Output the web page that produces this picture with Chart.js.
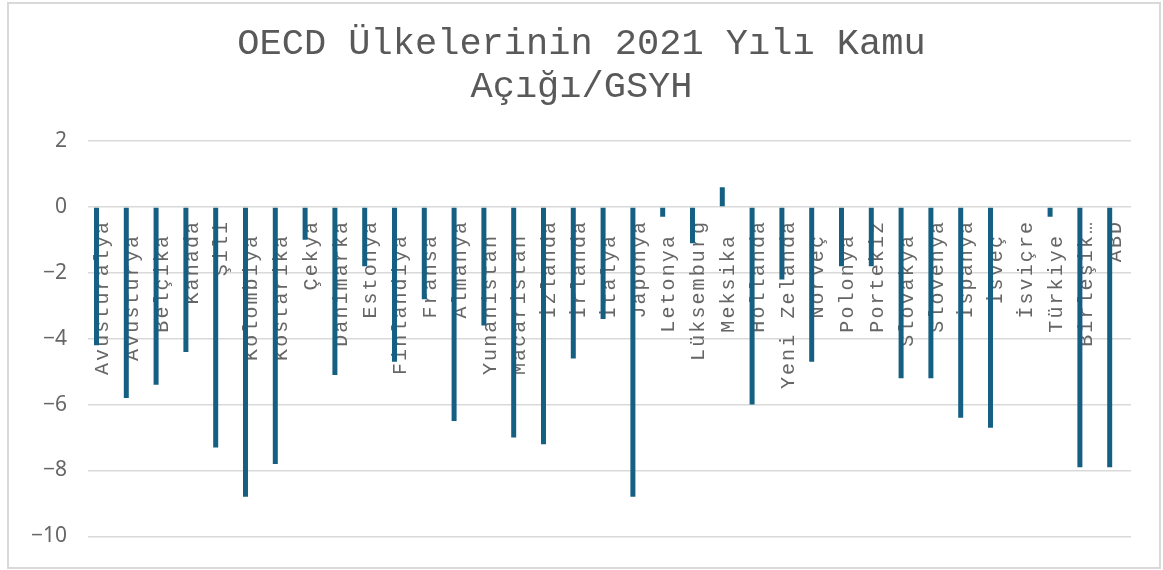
<!DOCTYPE html>
<html lang="tr">
<head>
<meta charset="utf-8">
<title>OECD Kamu Açığı/GSYH 2021</title>
<script src="https://cdn.jsdelivr.net/npm/chart.js@4/dist/chart.umd.min.js"></script>
<style>
  html, body { margin: 0; padding: 0; background: #fff; }
  #wrap { position: relative; width: 1163px; height: 570px; }
  #frame { position: absolute; left: 7px; top: 2px; width: 1150px; height: 563px; border: 2px solid #d9d9d9; pointer-events: none; }
</style>
</head>
<body>
<div id="wrap">
  <canvas id="chart" width="1163" height="570"></canvas>
  <div id="frame"></div>
</div>
<script>
// some labels carry a trailing space in the source sheet, which pushes them down by one character
const countries = ['Avusturalya', 'Avusturya ', 'Belçika ', 'Kanada', 'Şili', 'Kolombiya ', 'Kostarika ',
  'Çekya', 'Danimarka', 'Estonya', 'Finlandiya ', 'Fransa ', 'Almanya', 'Yunanistan ', 'Macaristan ',
  'İzlanda', 'İrlanda', 'İtalya ', 'Japonya', 'Letonya ', 'Lüksemburg', 'Meksika ', 'Hollanda',
  'Yeni Zelanda', 'Norveç ', 'Polonya ', 'Portekiz', 'Slovakya ', 'Slovenya', 'İspanya', 'İsveç ',
  'İsviçre', 'Türkiye ', 'Birleşik…', 'ABD'];
const deficit = [-4.2, -5.8, -5.4, -4.4, -7.3, -8.8, -7.8,
  -1.0, -5.1, -1.8, -4.7, -2.8, -6.5, -3.6, -7.0,
  -7.2, -4.6, -3.4, -8.8, -0.3, -1.1, 0.6, -6.0,
  -2.2, -4.7, -1.8, -1.8, -5.2, -5.2, -6.4, -6.7,
  0, -0.3, -7.9, -7.9];
const titleLines = ['OECD Ülkelerinin 2021 Yılı Kamu', 'Açığı/GSYH'];
const yMin = -10, yMax = 2, yStep = 2;

const mono = '"Liberation Mono", "Courier New", monospace';
const barColor = '#156082';
const gridColor = '#d9d9d9';

// category labels are drawn with extra character spacing
const spacedLabels = {
  id: 'spacedLabels',
  afterLayout(chart) {
    const scale = chart.scales.x;
    if (scale._spaced) return;
    const draw = scale.drawLabels;
    scale.drawLabels = function (area) {
      this.ctx.save();
      this.ctx.letterSpacing = '2.1px';
      draw.call(this, area);
      this.ctx.restore();
    };
    scale._spaced = true;
  }
};

new Chart(document.getElementById('chart'), {
  type: 'bar',
  data: {
    labels: countries,
    datasets: [
      { label: 'Kamu Açığı/GSYH', data: deficit, backgroundColor: barColor, borderWidth: 0 },
      { label: '', data: [] }
    ]
  },
  options: {
    responsive: false,
    animation: false,
    categoryPercentage: 0.86,
    barPercentage: 0.39,
    layout: { padding: { left: 32, right: 32, top: 0, bottom: 31 } },
    plugins: {
      legend: { display: false },
      tooltip: { enabled: false },
      title: {
        display: true,
        text: titleLines,
        color: '#595959',
        font: { family: mono, size: 37, weight: 'normal', lineHeight: 43 / 37 },
        padding: { top: 22.5, bottom: 32.5 }
      }
    },
    scales: {
      x: {
        position: { y: 0 },
        grid: { display: false, drawTicks: false },
        border: { display: false },
        ticks: {
          autoSkip: false,
          minRotation: 90,
          maxRotation: 90,
          padding: 13,
          color: '#666666',
          font: { family: mono, size: 20 }
        },
        afterFit(scale) { scale.height = 0; }
      },
      y: {
        min: yMin,
        max: yMax,
        grid: { color: gridColor, lineWidth: 1.5, drawTicks: false },
        border: { display: false },
        ticks: {
          stepSize: yStep,
          padding: 21,
          color: '#666666',
          font: { family: '"Noto Sans", "Open Sans", sans-serif', size: 21 },
          callback: v => String(v).replace('-', '\u2212')
        },
        afterFit(scale) { scale.width = 56; }
      }
    }
  },
  plugins: [spacedLabels]
});
</script>
</body>
</html>
